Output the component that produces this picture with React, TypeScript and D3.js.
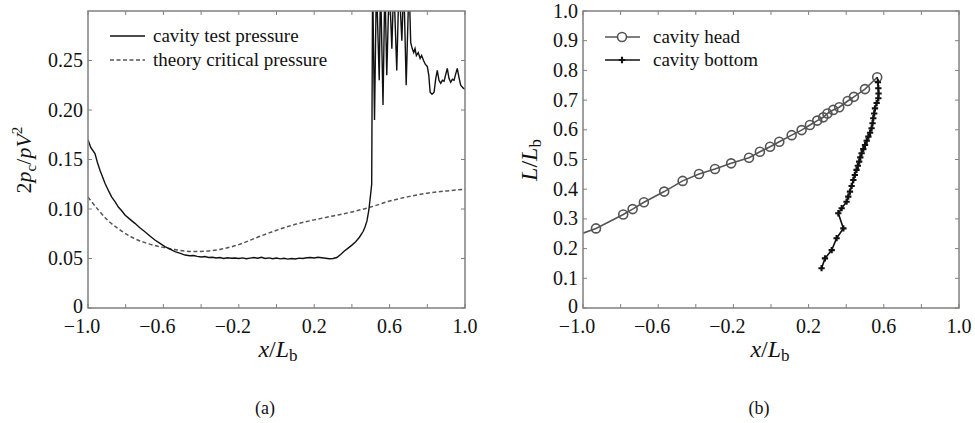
import React from 'react'
import * as d3 from 'd3'

// ---- data ----
const xTickValues = [-1.0, -0.8, -0.6, -0.4, -0.2, 0, 0.2, 0.4, 0.6, 0.8, 1.0]
const xLabelValues = [-1.0, -0.6, -0.2, 0.2, 0.6, 1.0]

const pressureTicks = [0, 0.05, 0.1, 0.15, 0.2, 0.25]
const pressureTickLabels = ['0', '0.05', '0.10', '0.15', '0.20', '0.25']

const lengthTicks = [0, 0.1, 0.2, 0.3, 0.4, 0.5, 0.6, 0.7, 0.8, 0.9, 1.0]
const lengthTickLabels = ['0', '0.1', '0.2', '0.3', '0.4', '0.5', '0.6', '0.7', '0.8', '0.9', '1.0']

// (a) cavity test pressure  [x/Lb, 2pc/pV^2]
const testPressure: [number, number][] = [
  [-1.0, 0.170], [-0.985, 0.162], [-0.963, 0.156], [-0.95, 0.147], [-0.936, 0.139], [-0.92, 0.131],
  [-0.91, 0.126], [-0.89, 0.118], [-0.874, 0.112], [-0.855, 0.107], [-0.839, 0.102], [-0.82, 0.098],
  [-0.804, 0.094], [-0.78, 0.090], [-0.751, 0.0855], [-0.725, 0.081], [-0.698, 0.077], [-0.67, 0.0725],
  [-0.645, 0.0687], [-0.62, 0.0655], [-0.592, 0.062], [-0.565, 0.0595], [-0.538, 0.057], [-0.51, 0.0552],
  [-0.485, 0.0535], [-0.46, 0.0528], [-0.44, 0.053], [-0.42, 0.0522], [-0.40, 0.0515], [-0.38, 0.052],
  [-0.36, 0.051], [-0.34, 0.0512], [-0.32, 0.0505], [-0.30, 0.051], [-0.28, 0.050], [-0.26, 0.0508],
  [-0.24, 0.0502], [-0.22, 0.0505], [-0.20, 0.050], [-0.18, 0.0506], [-0.16, 0.0498], [-0.14, 0.0504],
  [-0.12, 0.051], [-0.10, 0.0502], [-0.08, 0.0512], [-0.06, 0.050], [-0.04, 0.0506], [-0.02, 0.0498],
  [0.0, 0.0505], [0.02, 0.0496], [0.04, 0.0502], [0.06, 0.0494], [0.08, 0.050], [0.10, 0.0495],
  [0.12, 0.0504], [0.14, 0.050], [0.16, 0.0508], [0.18, 0.051], [0.20, 0.0505], [0.22, 0.0512],
  [0.24, 0.0508], [0.26, 0.0503], [0.28, 0.0498], [0.30, 0.050], [0.32, 0.051], [0.34, 0.054],
  [0.36, 0.0575], [0.38, 0.0605], [0.40, 0.0635], [0.42, 0.067], [0.44, 0.0715], [0.46, 0.0775],
  [0.47, 0.082], [0.48, 0.088], [0.49, 0.099], [0.50, 0.116], [0.505, 0.125],
  [0.510, 0.33], [0.520, 0.19], [0.530, 0.33], [0.545, 0.23], [0.552, 0.33], [0.565, 0.205],
  [0.575, 0.33], [0.585, 0.235], [0.598, 0.33], [0.612, 0.262], [0.622, 0.33], [0.638, 0.24],
  [0.650, 0.33], [0.665, 0.27], [0.675, 0.33], [0.688, 0.225], [0.703, 0.33], [0.712, 0.268],
  [0.720, 0.262], [0.728, 0.258], [0.735, 0.262], [0.742, 0.255], [0.752, 0.258], [0.762, 0.252],
  [0.770, 0.255], [0.780, 0.250], [0.790, 0.246], [0.800, 0.244], [0.808, 0.235], [0.815, 0.218],
  [0.825, 0.216], [0.836, 0.218], [0.845, 0.232], [0.853, 0.240], [0.862, 0.230], [0.871, 0.227],
  [0.880, 0.230], [0.889, 0.229], [0.898, 0.236], [0.906, 0.242], [0.915, 0.232], [0.924, 0.228],
  [0.933, 0.231], [0.942, 0.230], [0.950, 0.236], [0.959, 0.242], [0.968, 0.233], [0.977, 0.225],
  [0.991, 0.222], [1.0, 0.221],
]

// (a) theory critical pressure
const criticalPressure: [number, number][] = [
  [-1.0, 0.112], [-0.945, 0.099], [-0.892, 0.088], [-0.839, 0.080], [-0.768, 0.0715], [-0.698, 0.066],
  [-0.609, 0.0615], [-0.538, 0.059], [-0.48, 0.0575], [-0.42, 0.057], [-0.35, 0.0578], [-0.3, 0.0592],
  [-0.2, 0.064], [-0.1, 0.0715], [0.0, 0.0785], [0.1, 0.0845], [0.2, 0.089], [0.3, 0.093],
  [0.4, 0.097], [0.5, 0.102], [0.6, 0.108], [0.7, 0.1125], [0.8, 0.116], [0.9, 0.1182], [1.0, 0.120],
]

// (b) cavity head  [x/Lb, L/Lb]; the first point lies on the axis and has no marker
const cavityHead: [number, number][] = [
  [-1.0, 0.252], [-0.931, 0.268], [-0.786, 0.315], [-0.736, 0.333], [-0.676, 0.356], [-0.568, 0.392],
  [-0.470, 0.428], [-0.383, 0.451], [-0.298, 0.468], [-0.212, 0.487], [-0.117, 0.506], [-0.059, 0.526],
  [-0.005, 0.543], [0.044, 0.560], [0.110, 0.582], [0.163, 0.599], [0.207, 0.616], [0.246, 0.631],
  [0.278, 0.642], [0.300, 0.655], [0.331, 0.667], [0.363, 0.676], [0.408, 0.697], [0.441, 0.711],
  [0.500, 0.737], [0.565, 0.777],
]

// (b) cavity bottom
const cavityBottom: [number, number][] = [
  [0.565, 0.777], [0.569, 0.760], [0.571, 0.740], [0.572, 0.722], [0.571, 0.706], [0.562, 0.690],
  [0.553, 0.672], [0.549, 0.655], [0.544, 0.639], [0.540, 0.622], [0.535, 0.605], [0.527, 0.590],
  [0.518, 0.577], [0.509, 0.563], [0.500, 0.549], [0.491, 0.535], [0.482, 0.521], [0.475, 0.507],
  [0.469, 0.493], [0.462, 0.479], [0.455, 0.465], [0.446, 0.448], [0.438, 0.431], [0.429, 0.411],
  [0.420, 0.392], [0.411, 0.375], [0.402, 0.358], [0.376, 0.336], [0.358, 0.319], [0.385, 0.268],
  [0.349, 0.235], [0.323, 0.195], [0.287, 0.167], [0.269, 0.134],
]

const FONT = 'Liberation Serif, DejaVu Serif, serif'
const FRAME = '#808080'

type Tick = { value: number; label: string }

function Frame(props: {
  x: d3.ScaleLinear<number, number>
  y: d3.ScaleLinear<number, number>
  yTicks: Tick[]
}) {
  const { x, y, yTicks } = props
  const [x0, x1] = x.range()
  const [y0, y1] = y.range() // y0 bottom, y1 top
  const tl = 4
  return (
    <g>
      {xTickValues.map((v, i) => (
        <g key={'xt' + i} stroke={FRAME} strokeWidth={1}>
          <line x1={x(v)} x2={x(v)} y1={y0} y2={y0 - tl} />
          <line x1={x(v)} x2={x(v)} y1={y1} y2={y1 + tl} />
        </g>
      ))}
      {yTicks.map((t, i) => (
        <g key={'yt' + i} stroke={FRAME} strokeWidth={1}>
          <line x1={x0} x2={x0 + tl} y1={y(t.value)} y2={y(t.value)} />
          <line x1={x1} x2={x1 - tl} y1={y(t.value)} y2={y(t.value)} />
        </g>
      ))}
      <rect x={x0} y={y1} width={x1 - x0} height={y0 - y1} fill="none" stroke={FRAME} strokeWidth={1.5} />
      {xLabelValues.map((v, i) => (
        <text key={'xl' + i} x={x(v) - (v < 0 ? 6 : 0)} y={y0 + 25} textAnchor="middle"
          fontFamily={FONT} fontSize={20} fill="#111">
          {v < 0 ? '\u2212' + Math.abs(v).toFixed(1) : v.toFixed(1)}
        </text>
      ))}
      {yTicks.map((t, i) => (
        <text key={'yl' + i} x={x0 - 5} y={y(t.value) + (t.value === 0 ? 5 : 6.5)} textAnchor="end"
          fontFamily={FONT} fontSize={20} fill="#111">
          {t.label}
        </text>
      ))}
    </g>
  )
}

export default function App() {
  // panel (a)
  const xa = d3.scaleLinear().domain([-1, 1]).range([88, 465])
  const ya = d3.scaleLinear().domain([0, 0.3]).range([308, 11])
  // panel (b)
  const xb = d3.scaleLinear().domain([-1, 1]).range([583, 959])
  const yb = d3.scaleLinear().domain([0, 1]).range([308, 11])

  const lineA = d3.line<[number, number]>().x(d => xa(d[0])).y(d => ya(d[1]))
  const smoothA = d3.line<[number, number]>().x(d => xa(d[0])).y(d => ya(d[1])).curve(d3.curveMonotoneX)
  const lineB = d3.line<[number, number]>().x(d => xb(d[0])).y(d => yb(d[1]))
  const cross = d3.symbol().type(d3.symbolCross).size(22)()

  return (
    <svg width={975} height={423} style={{ position: 'absolute', left: 0, top: 0, background: '#fff' }}>
      <defs>
        <clipPath id="clipA"><rect x={88} y={11} width={377} height={297} /></clipPath>
        <clipPath id="clipB"><rect x={583} y={11} width={376} height={297} /></clipPath>
      </defs>

      {/* ---------- (a) ---------- */}
      <g clipPath="url(#clipA)">
        <path d={smoothA(criticalPressure) || ''} fill="none" stroke="#555" strokeWidth={1.5} strokeDasharray="4 2.5" />
        <path d={lineA(testPressure) || ''} fill="none" stroke="#111" strokeWidth={1.4} />
      </g>
      <Frame x={xa} y={ya} yTicks={pressureTicks.map((v, i) => ({ value: v, label: pressureTickLabels[i] }))} />

      <g fontFamily={FONT} fontSize={19} fill="#111">
        <line x1={110} x2={145} y1={36} y2={36} stroke="#111" strokeWidth={1.3} />
        <text x={153} y={42}>cavity test pressure</text>
        <line x1={110} x2={145} y1={60} y2={60} stroke="#555" strokeWidth={1.5} strokeDasharray="4 2.5" />
        <text x={153} y={66}>theory critical pressure</text>
      </g>

      <text transform="translate(31,160) rotate(-90)" textAnchor="middle" fontFamily={FONT} fontSize={22} fill="#111">
        <tspan>2</tspan>
        <tspan fontStyle="italic">p</tspan>
        <tspan fontSize={15} dy={5}>c</tspan>
        <tspan dy={-5}>/</tspan>
        <tspan fontStyle="italic">pV</tspan>
        <tspan fontSize={15} dy={-9}>2</tspan>
      </text>
      <text x={278} y={357} textAnchor="middle" fontFamily={FONT} fontSize={24} fill="#111">
        <tspan fontStyle="italic">x</tspan>
        <tspan>/</tspan>
        <tspan fontStyle="italic">L</tspan>
        <tspan fontSize={17} dy={4}>b</tspan>
      </text>
      <text x={265} y={414} textAnchor="middle" fontFamily={FONT} fontSize={18} fill="#111">(a)</text>

      {/* ---------- (b) ---------- */}
      <g clipPath="url(#clipB)">
        <path d={lineB(cavityHead) || ''} fill="none" stroke="#555" strokeWidth={1.6} />
        {cavityHead.slice(1).map((d, i) => (
          <circle key={'h' + i} cx={xb(d[0])} cy={yb(d[1])} r={4.5} fill="none" stroke="#555" strokeWidth={1.6} />
        ))}
        <path d={lineB(cavityBottom) || ''} fill="none" stroke="#111" strokeWidth={1.6} />
        {cavityBottom.slice(1).map((d, i) => (
          <path key={'b' + i} d={cross || ''} transform={`translate(${xb(d[0])},${yb(d[1])})`} fill="#111" />
        ))}
      </g>
      <Frame x={xb} y={yb} yTicks={lengthTicks.map((v, i) => ({ value: v, label: lengthTickLabels[i] }))} />

      <g fontFamily={FONT} fontSize={19} fill="#111">
        <line x1={605} x2={640} y1={37} y2={37} stroke="#555" strokeWidth={1.6} />
        <circle cx={622} cy={37} r={4.5} fill="#fff" stroke="#555" strokeWidth={1.6} />
        <text x={653} y={43}>cavity head</text>
        <line x1={605} x2={640} y1={60} y2={60} stroke="#111" strokeWidth={1.6} />
        <path d={cross || ''} transform="translate(622,60)" fill="#111" />
        <text x={653} y={66}>cavity bottom</text>
      </g>

      <text transform="translate(537,160) rotate(-90)" textAnchor="middle" fontFamily={FONT} fontSize={24} fill="#111">
        <tspan fontStyle="italic">L</tspan>
        <tspan>/</tspan>
        <tspan fontStyle="italic">L</tspan>
        <tspan fontSize={17} dy={4}>b</tspan>
      </text>
      <text x={770} y={357} textAnchor="middle" fontFamily={FONT} fontSize={24} fill="#111">
        <tspan fontStyle="italic">x</tspan>
        <tspan>/</tspan>
        <tspan fontStyle="italic">L</tspan>
        <tspan fontSize={17} dy={4}>b</tspan>
      </text>
      <text x={759} y={414} textAnchor="middle" fontFamily={FONT} fontSize={18} fill="#111">(b)</text>
    </svg>
  )
}
